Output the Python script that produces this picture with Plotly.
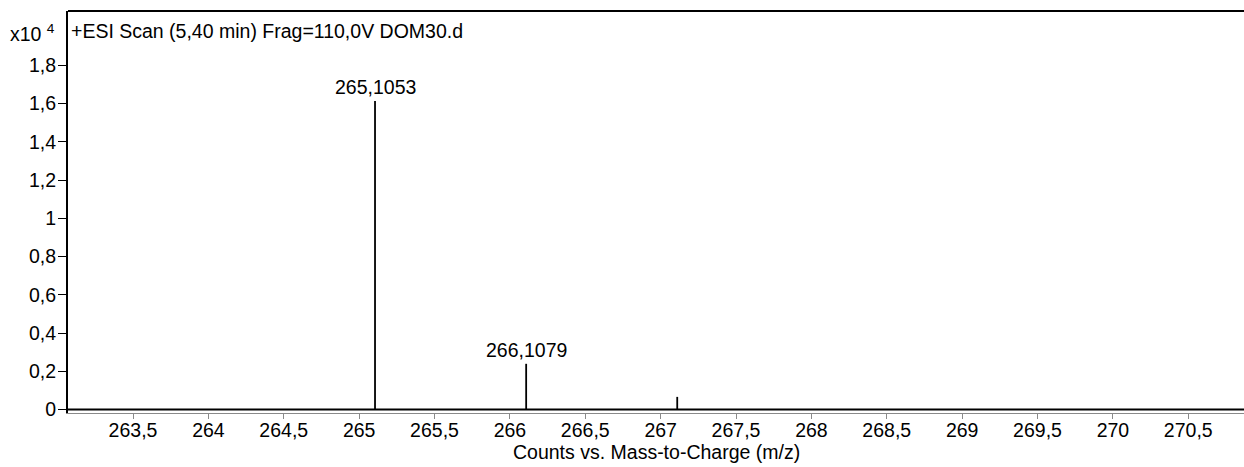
import plotly.graph_objects as go

# Centroid peaks: m/z and intensity (counts)
peak_mz = [265.1053, 266.1079, 267.1100]
peak_counts = [16140, 2390, 660]
labelled_peaks = [265.1053, 266.1079]

# Axis ticks
y_ticks = [0, 0.2, 0.4, 0.6, 0.8, 1.0, 1.2, 1.4, 1.6, 1.8]
x_ticks = [263.5, 264, 264.5, 265, 265.5, 266, 266.5, 267,
           267.5, 268, 268.5, 269, 269.5, 270, 270.5]

scale = 1e4  # intensity axis shown in units of x10^4
x_range = [263.0687, 270.8696]
y_range = [-0.0183, 2.0846]

title_text = "+ESI Scan (5,40 min) Frag=110,0V DOM30.d"
x_title = "Counts vs. Mass-to-Charge (m/z)"

FONT = "Liberation Sans, Arial, sans-serif"
FS = 19.5


def comma(v):
    s = f"{v:g}"
    return s.replace(".", ",")


# stick spectrum
xs, ys = [], []
for mz, c in zip(peak_mz, peak_counts):
    xs += [mz, mz, None]
    ys += [0, c / scale, None]

fig = go.Figure()
fig.add_trace(go.Scatter(x=xs, y=ys, mode="lines",
                         line=dict(color="black", width=1.8),
                         hoverinfo="skip", showlegend=False))

annotations = []
for mz, c in zip(peak_mz, peak_counts):
    if mz in labelled_peaks:
        annotations.append(dict(
            x=mz, y=c / scale, xref="x", yref="y",
            text=f"{mz:.4f}".replace(".", ","),
            showarrow=False, yanchor="bottom", xanchor="center",
            yshift=1, font=dict(family=FONT, size=FS, color="black")))

annotations.append(dict(x=0, y=0.95, xref="paper", yref="paper",
                        text=title_text, showarrow=False,
                        xanchor="left", yanchor="middle", xshift=1,
                        font=dict(family=FONT, size=FS, color="black")))
annotations.append(dict(x=-0.0095, y=0.945, xref="paper", yref="paper",
                        text="x10 <sup>4</sup>", showarrow=False,
                        xanchor="right", yanchor="middle",
                        font=dict(family=FONT, size=FS, color="black")))
annotations.append(dict(x=0.5, y=-0.097, xref="paper", yref="paper",
                        text=x_title, showarrow=False,
                        xanchor="center", yanchor="middle",
                        font=dict(family=FONT, size=FS, color="black")))

shapes = [
    # zero-intensity baseline
    dict(type="line", xref="paper", yref="y", x0=0, x1=1, y0=0, y1=0,
         line=dict(color="black", width=2.2)),
    # top frame line
    dict(type="line", xref="paper", yref="paper", x0=0, x1=1, y0=1, y1=1,
         line=dict(color="black", width=2)),
]

fig.update_layout(
    width=1244, height=467,
    margin=dict(l=68, r=0, t=11, b=54),
    paper_bgcolor="white", plot_bgcolor="white",
    font=dict(family=FONT, size=FS, color="black"),
    annotations=annotations, shapes=shapes,
    showlegend=False,
)
fig.update_xaxes(range=x_range, tickmode="array", tickvals=x_ticks,
                 ticktext=[comma(v) for v in x_ticks],
                 showgrid=False, zeroline=False,
                 showline=True, linecolor="#8a8a8a", linewidth=1.2,
                 ticks="outside", ticklen=5, tickcolor="#8a8a8a", tickwidth=1.2,
                 ticklabelstandoff=-6,
                 tickfont=dict(family=FONT, size=FS, color="black"))
fig.update_yaxes(range=y_range, tickmode="array", tickvals=y_ticks,
                 ticktext=[comma(v) for v in y_ticks],
                 showgrid=False, zeroline=False,
                 showline=True, linecolor="black", linewidth=2,
                 ticks="outside", ticklen=8, tickcolor="black", tickwidth=1.2,
                 ticklabelstandoff=-2,
                 tickfont=dict(family=FONT, size=FS, color="black"))

fig.write_html("out.html")
